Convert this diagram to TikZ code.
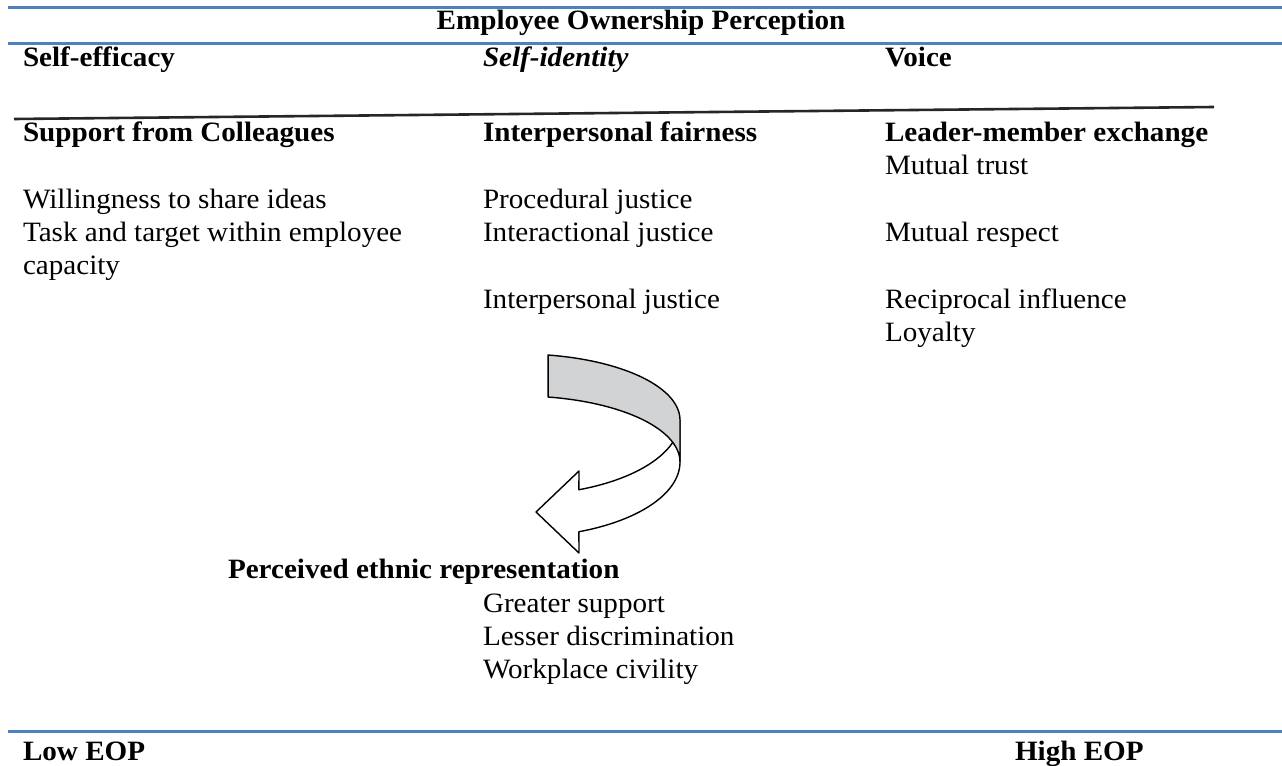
\documentclass[tikz,border=0pt]{standalone}
\usepackage{fontspec}
\setmainfont{Liberation Serif}[FakeStretch=1.04]
\definecolor{eopblue}{RGB}{79,129,189}
\definecolor{ribbon}{RGB}{209,211,212}
\begin{document}
\begin{tikzpicture}[x=1bp,y=-1bp,
  txt/.style={inner sep=0pt, outer sep=0pt, anchor=base west, font=\fontsize{28bp}{33bp}\selectfont},
  hd/.style={txt, font=\fontsize{28bp}{33bp}\selectfont\bfseries},
  hdit/.style={txt, font=\fontsize{28bp}{33bp}\selectfont\bfseries\itshape},
  rule/.style={draw=eopblue, line width=3bp},
  slant/.style={draw=black!85, line width=2.6bp},
  band/.style={draw=black, line width=1.4bp, line join=round}]
\fill[white] (0,0) rectangle (1282,766);
\useasboundingbox (0,0) rectangle (1282,766);

% rules
\coordinate (r1a) at (8,8);   \coordinate (r1b) at (1282,8);
\coordinate (r2a) at (8,44);  \coordinate (r2b) at (1282,44);
\coordinate (r3a) at (8,731); \coordinate (r3b) at (1282,731);
\coordinate (sla) at (14,119); \coordinate (slb) at (1214,107);
\draw[rule] (r1a) -- (r1b);
\draw[rule] (r2a) -- (r2b);
\draw[rule] (r3a) -- (r3b);
\draw[slant] (sla) -- (slb);

% titles
\node[hd, anchor=base] (title) at (641,30) {Employee Ownership Perception};
\node[hd] (se) at (23,67) {Self-efficacy};
\node[hdit] (si) at (483,67) {Self-identity};
\node[hd] (vo) at (885,67) {Voice};

% column 1
\node[hd] (c1h) at (23,141) {Support from Colleagues};
\node[txt] (c1a) at (23,208) {Willingness to share ideas};
\node[txt] (c1b) at (23,241) {Task and target within employee};
\node[txt] (c1c) at (23,274) {capacity};

% column 2
\node[hd] (c2h) at (483,141) {Interpersonal fairness};
\node[txt] (c2a) at (483,208) {Procedural justice};
\node[txt] (c2b) at (483,241) {Interactional justice};
\node[txt] (c2c) at (483,308) {Interpersonal justice};

% column 3
\node[hd] (c3h) at (885,141) {Leader-member exchange};
\node[txt] (c3a) at (885,174) {Mutual trust};
\node[txt] (c3b) at (885,241) {Mutual respect};
\node[txt] (c3c) at (885,308) {Reciprocal influence};
\node[txt] (c3d) at (885,341) {Loyalty};

% curved arrow: front (white) band with head
\draw[band, fill=white] (680,420)
  -- plot[domain=0:68.4, samples=40, variable=\t] ({520+160*cos(\t)},{420+75*sin(\t)})
  -- (579,471) -- (536,512) -- (579,553)
  -- plot[domain=68.4:0, samples=40, variable=\t] ({520+160*cos(\t)},{462+75*sin(\t)})
  -- cycle;
% back (grey) band
\draw[band, fill=ribbon]
  plot[domain=-79.9:0, samples=40, variable=\t] ({520+160*cos(\t)},{420+66*sin(\t)})
  -- plot[domain=0:-79.9, samples=40, variable=\t] ({520+160*cos(\t)},{462+66*sin(\t)})
  -- cycle;

% bottom group
\node[hd] (per) at (228,578) {Perceived ethnic representation};
\node[txt] (pa) at (483,612) {Greater support};
\node[txt] (pb) at (483,645) {Lesser discrimination};
\node[txt] (pc) at (483,678) {Workplace civility};

\node[hd] (low) at (23,760) {Low EOP};
\node[hd] (high) at (1015,760) {High EOP};
\end{tikzpicture}
\end{document}
